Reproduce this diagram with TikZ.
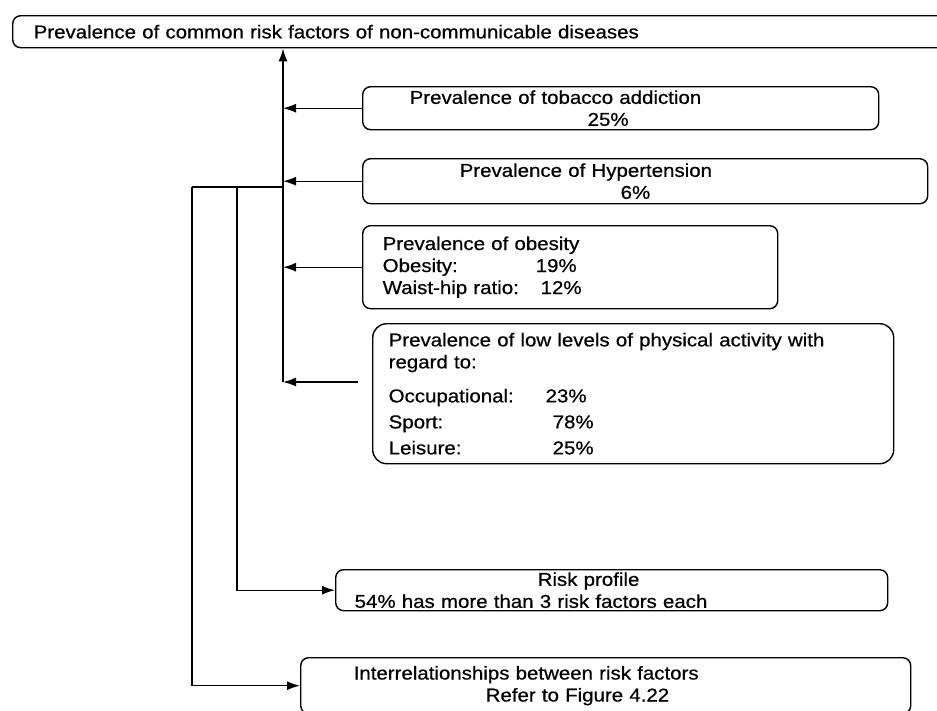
\documentclass[tikz,border=0pt]{standalone}
\usepackage{fontspec}
\setmainfont{Liberation Sans}[FakeStretch=1.1, FakeBold=0.6]
\usepackage{tikz}
\usetikzlibrary{arrows.meta}
\tikzstyle{riskbox} = [rectangle, rounded corners=8pt, draw=black, line width=1.4pt, inner xsep=0pt, inner ysep=0pt, align=left, anchor=north west, font=\fontsize{18.6}{22}\selectfont]
\tikzstyle{arrow} = [line width=1.4pt, -{Latex[length=13pt,width=9pt]}]
\tikzstyle{line} = [line width=1.4pt]

\begin{document}
\begin{tikzpicture}[x=1pt, y=-1pt]
	\useasboundingbox (0,0) rectangle (937,710);
	
	\node (p1) [riskbox, text width=1000pt, minimum height=32pt] at (12,15) {\hspace*{21pt}Prevalence of common risk factors of non-communicable diseases};
	\node (p2) [riskbox, text width=516pt, minimum height=43pt] at (362,86) {\hspace*{47pt}Prevalence of tobacco addiction\\\hspace*{225pt}25\%};
	\node (p3) [riskbox, text width=565pt, minimum height=45pt] at (362,158) {\hspace*{97pt}Prevalence of Hypertension\\\hspace*{258pt}6\%};
	\node (p4) [riskbox, text width=415pt, minimum height=83pt] at (362,225) {\hspace*{20pt}Prevalence of obesity\\\hspace*{20pt}\makebox[153pt][l]{Obesity:}19\%\\\hspace*{20pt}\makebox[158pt][l]{Waist-hip ratio:}12\%};
	\node (p5) [riskbox, rounded corners=14pt, text width=521pt, minimum height=140pt] at (372,323) {\hspace*{16pt}Prevalence of low levels of physical activity with\\\hspace*{16pt}regard to:\\[12pt]\hspace*{16pt}\makebox[157pt][l]{Occupational:}23\%\\[4pt]\hspace*{16pt}\makebox[164pt][l]{Sport:}78\%\\[4pt]\hspace*{16pt}\makebox[164pt][l]{Leisure:}25\%};
	\node (p6) [riskbox, text width=552pt, minimum height=41pt] at (335,569) {\hspace*{202pt}Risk profile\\\hspace*{19pt}54\% has more than 3 risk factors each};
	\node (p7) [riskbox, text width=610pt, minimum height=56pt] at (300,657) {\hspace*{53pt}Interrelationships between risk factors\\\hspace*{185pt}Refer to Figure 4.22};
	
	\coordinate (trunk) at (283,382);
	\coordinate (fork) at (283,187);
	\coordinate (mfork) at (237,187);
	\coordinate (lfork) at (192,187);
	
	\draw [arrow] (trunk) -- (trunk |- p1.south);
	\draw [arrow] (p2.west) -- (p2.west -| trunk);
	\draw [arrow] (p3.west) -- (p3.west -| trunk);
	\draw [arrow] (p4.west) -- (p4.west -| trunk);
	\draw [arrow] ([xshift=-14pt]p5.west |- trunk) -- (trunk);
	
	\draw [line] (fork) -- (lfork);
	\draw [arrow] (mfork) |- (p6.west);
	\draw [arrow] (lfork) |- (p7.west);
	
\end{tikzpicture}
\end{document}
